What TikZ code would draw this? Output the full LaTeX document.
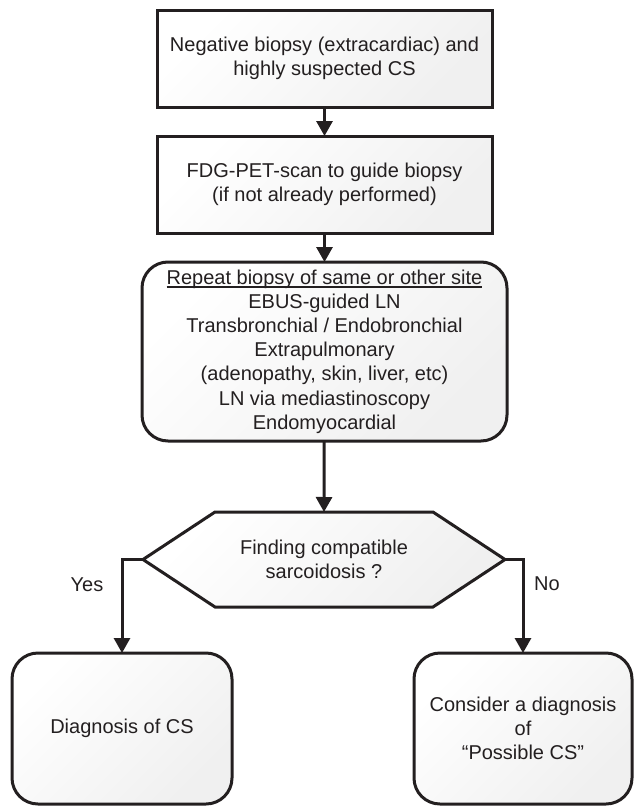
\documentclass[tikz,border=0pt]{standalone}
\usepackage{fontspec}
\setmainfont{Liberation Sans}
\usetikzlibrary{arrows.meta,backgrounds}
\definecolor{ink}{HTML}{231F20}
\newcommand\myul[1]{{\setbox0\hbox{#1}\rlap{\rule[-3.8pt]{\wd0}{1.7pt}}\box0}}
\begin{document}
\begin{tikzpicture}[x=1pt,y=-1pt,
  every node/.style={font=\fontsize{20}{24.2}\selectfont, text=ink, align=center},
  boxfill/.style={top color=white, bottom color=black!6, shading angle=45},
  sqbox/.style={draw=ink, line width=3pt, boxfill, inner sep=0pt, outer sep=0pt},
  rbox/.style={sqbox, rounded corners=26pt},
  arr/.style={draw=ink, line width=3pt, -{Triangle[length=15pt,width=16pt]}},
  lbl/.style={inner sep=0pt}]
\useasboundingbox (0,0) rectangle (633,806);
\node[sqbox, minimum width=335pt, minimum height=97pt] (b1) at (324.5,58.5)
  {Negative biopsy (extracardiac) and\\highly suspected CS};
\node[sqbox, minimum width=335pt, minimum height=97pt] (b2) at (324.5,184.5)
  {FDG-PET-scan to guide biopsy\\(if not already performed)};
\node[rbox, minimum width=365pt, minimum height=179pt] (b3) at (324.5,351.5)
  {\myul{Repeat biopsy of same or other site}\\EBUS-guided LN\\Transbronchial / Endobronchial\\Extrapulmonary\\(adenopathy, skin, liver, etc)\\LN via mediastinoscopy\\Endomyocardial};
\node[minimum width=362pt, minimum height=95pt, inner sep=0pt, outer sep=0pt] (dec) at (324,559.5)
  {Finding compatible\\sarcoidosis ?};
\begin{scope}[on background layer]
\draw[draw=ink, line width=3pt, boxfill]
  (dec.west) -- ([xshift=72pt]dec.north west) -- ([xshift=-72pt]dec.north east)
  -- (dec.east) -- ([xshift=-72pt]dec.south east) -- ([xshift=72pt]dec.south west) -- cycle;
\end{scope}
\node[rbox, minimum width=220pt, minimum height=151pt] (yes) at (122,728.5)
  {Diagnosis of CS};
\node[rbox, minimum width=218pt, minimum height=151pt] (no) at (523,728.5)
  {Consider a diagnosis\\of\\“Possible CS”};
\draw[arr] (b1) -- (b2);
\draw[arr] (b2) -- (b3);
\draw[arr] (b3) -- (dec.north);
\draw[arr] (dec.west) -| (yes.north);
\draw[arr] (dec.east) -| (no.north);
\node[lbl] (ylab) at (87,585) {Yes};
\node[lbl] (nlab) at (547,584) {No};
\end{tikzpicture}
\end{document}
